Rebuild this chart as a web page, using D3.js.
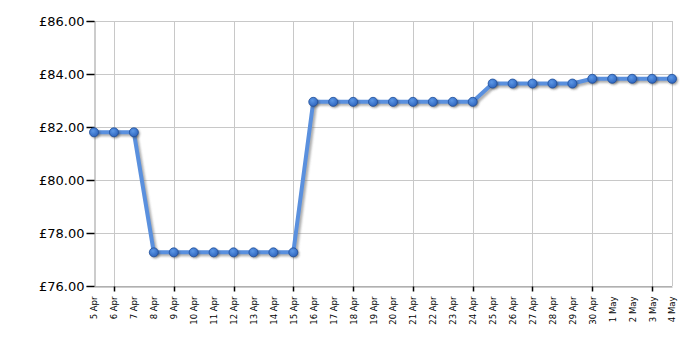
<!DOCTYPE html>
<html>
<head>
<meta charset="utf-8">
<script src="https://cdn.jsdelivr.net/npm/d3@7"></script>
<style>
  body { margin: 0; background: #fff; }
  svg text { font-family: Verdana, "DejaVu Sans", sans-serif; }
</style>
</head>
<body>
<div class="chart"></div>
<script>
// price history, 5 Apr - 4 May
var dates = ["5 Apr","6 Apr","7 Apr","8 Apr","9 Apr","10 Apr","11 Apr","12 Apr","13 Apr","14 Apr",
  "15 Apr","16 Apr","17 Apr","18 Apr","19 Apr","20 Apr","21 Apr","22 Apr","23 Apr","24 Apr",
  "25 Apr","26 Apr","27 Apr","28 Apr","29 Apr","30 Apr","1 May","2 May","3 May","4 May"];
var prices = [81.80, 81.80, 81.80, 77.27, 77.27, 77.27, 77.27, 77.27, 77.27, 77.27,
  77.27, 82.95, 82.95, 82.95, 82.95, 82.95, 82.95, 82.95, 82.95, 82.95,
  83.64, 83.64, 83.64, 83.64, 83.64, 83.82, 83.82, 83.82, 83.82, 83.82];
var yTicks = [76, 78, 80, 82, 84, 86];
var gridDates = ["6 Apr","9 Apr","12 Apr","15 Apr","18 Apr","21 Apr","24 Apr","27 Apr","30 Apr","3 May"];

var width = 700, height = 350;
var margin = {top: 21, right: 28, bottom: 64, left: 94};

var svg = d3.select('.chart').append('svg')
  .attr('width', width)
  .attr('height', height);

var defs = svg.append('defs');
var blur = defs.append('filter').attr('id', 'shadow')
  .attr('x', '-20%').attr('y', '-20%').attr('width', '140%').attr('height', '140%');
blur.append('feGaussianBlur').attr('stdDeviation', 1);

var grad = defs.append('radialGradient').attr('id', 'dot')
  .attr('cx', '40%').attr('cy', '35%').attr('r', '65%');
grad.append('stop').attr('offset', '0%').attr('stop-color', '#5d98e6');
grad.append('stop').attr('offset', '100%').attr('stop-color', '#2f66bf');

var x = d3.scalePoint()
  .domain(dates)
  .range([margin.left, width - margin.right]);

var y = d3.scaleLinear()
  .domain([76, 86])
  .range([height - margin.bottom, margin.top]);

// grid
svg.append('g').selectAll('line')
  .data(yTicks)
  .enter().append('line')
  .attr('x1', margin.left).attr('x2', width - margin.right)
  .attr('y1', d => y(d) + 0.5).attr('y2', d => y(d) + 0.5)
  .attr('stroke', '#c8c8c8');

svg.append('g').selectAll('line')
  .data(gridDates.concat(["4 May"]))
  .enter().append('line')
  .attr('x1', d => Math.round(x(d)) + 0.5).attr('x2', d => Math.round(x(d)) + 0.5)
  .attr('y1', margin.top).attr('y2', height - margin.bottom)
  .attr('stroke', '#c8c8c8');

// axes
var yAxis = d3.axisLeft(y)
  .tickValues(yTicks)
  .tickSize(8)
  .tickPadding(2)
  .tickFormat(d => '£' + d3.format('.2f')(d));

var yg = svg.append('g')
  .attr('transform', 'translate(' + (margin.left + 0.5) + ',0)')
  .call(yAxis);
yg.select('.domain').attr('stroke', '#999');
yg.selectAll('.tick line').attr('stroke', '#000').attr('stroke-width', 1.5);
yg.selectAll('text').attr('font-size', '13px').attr('fill', '#000');

var xAxis = d3.axisBottom(x)
  .tickSize(0)
  .tickPadding(0);

var xg = svg.append('g')
  .attr('transform', 'translate(0,' + (height - margin.bottom + 0.5) + ')')
  .call(xAxis);
xg.select('.domain').attr('stroke', '#999');
xg.selectAll('.tick text')
  .attr('font-size', '8.5px')
  .attr('fill', '#000')
  .attr('text-anchor', 'end')
  .attr('transform', 'rotate(-90)')
  .attr('x', -10)
  .attr('y', 0)
  .attr('dy', '0.35em');

xg.selectAll('.tickmark')
  .data(gridDates)
  .enter().append('line')
  .attr('x1', d => Math.round(x(d)) + 0.5).attr('x2', d => Math.round(x(d)) + 0.5)
  .attr('y1', 0).attr('y2', 5)
  .attr('stroke', '#000')
  .attr('stroke-width', 1.5);

// line and markers
var line = d3.line()
  .x((d, i) => x(dates[i]))
  .y(d => y(d));

svg.append('path')
  .datum(prices)
  .attr('d', line)
  .attr('transform', 'translate(2,2)')
  .attr('fill', 'none')
  .attr('stroke', '#777')
  .attr('stroke-opacity', 0.6)
  .attr('stroke-width', 4)
  .attr('filter', 'url(#shadow)');

svg.append('path')
  .datum(prices)
  .attr('d', line)
  .attr('fill', 'none')
  .attr('stroke', '#5a90de')
  .attr('stroke-width', 4)
  .attr('stroke-linejoin', 'round');

svg.append('g').selectAll('circle')
  .data(prices)
  .enter().append('circle')
  .attr('cx', (d, i) => x(dates[i]) + 1.5)
  .attr('cy', d => y(d) + 1.5)
  .attr('r', 4.5)
  .attr('fill', '#333')
  .attr('fill-opacity', 0.5)
  .attr('filter', 'url(#shadow)');

svg.append('g').selectAll('circle')
  .data(prices)
  .enter().append('circle')
  .attr('cx', (d, i) => x(dates[i]))
  .attr('cy', d => y(d))
  .attr('r', 4.5)
  .attr('fill', 'url(#dot)')
  .attr('stroke', '#1f4f9a')
  .attr('stroke-width', 0.8);
</script>
</body>
</html>
